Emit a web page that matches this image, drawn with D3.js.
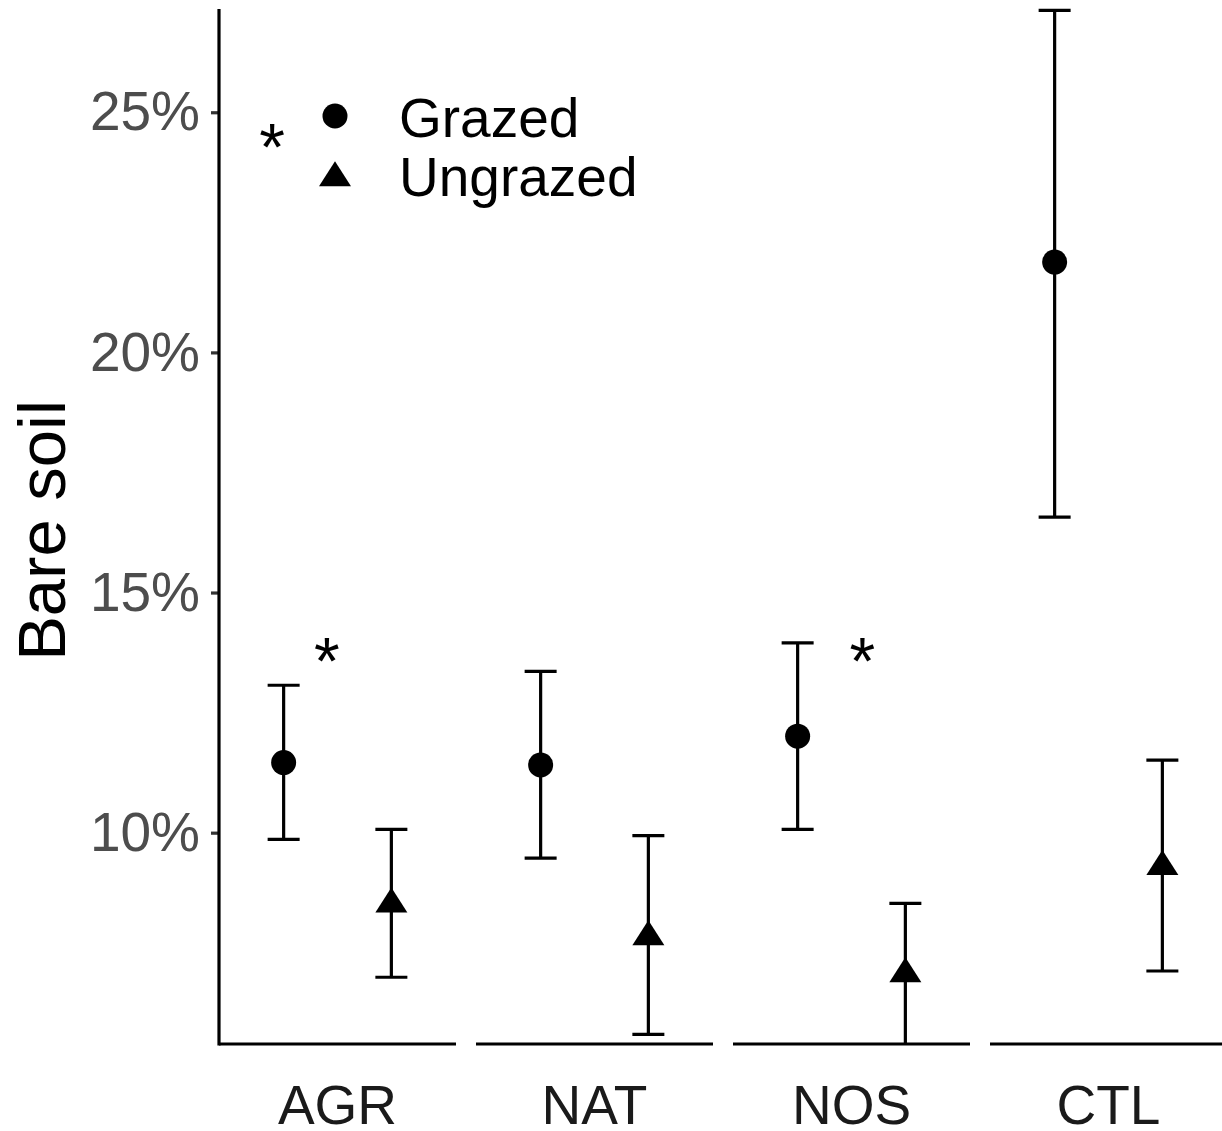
<!DOCTYPE html>
<html>
<head>
<meta charset="utf-8">
<script src="https://cdn.jsdelivr.net/npm/d3@7"></script>
<style>
  html, body { margin: 0; padding: 0; background: #ffffff; }
  svg { display: block; font-family: "Liberation Sans", Arial, Helvetica, sans-serif; }
</style>
</head>
<body>
<svg id="chart" width="1222" height="1131"></svg>
<script>
// Sites (facets) and grazing treatments
const sites = ["AGR", "NAT", "NOS", "CTL"];
const treatments = ["Grazed", "Ungrazed"];

// Bare soil cover (%) — mean with lower / upper interval bounds
const grazedMean  = [11.46, 11.41, 12.01, 21.88];
const grazedLow   = [9.86, 9.47, 10.07, 16.57];
const grazedHigh  = [13.07, 13.36, 13.95, 27.12];
const ungrazedMean = [8.51, 7.83, 7.06, 9.29];
const ungrazedLow  = [6.99, 5.80, 5.40, 7.12];
const ungrazedHigh = [10.07, 9.94, 8.53, 11.51];

// Y axis ticks (%)
const yTicks = [10, 15, 20, 25];

// Significance marks: site, x position on the treatment axis (1 = Grazed, 2 = Ungrazed), y value (%)
const sigSites = ["AGR", "NOS"];
const sigPos   = [1.4, 1.6];
const sigY     = [13.5, 13.5];

const rows = [];
sites.forEach((s, i) => {
  rows.push({ site: s, treat: "Grazed", mean: grazedMean[i], lo: grazedLow[i], hi: grazedHigh[i] });
  rows.push({ site: s, treat: "Ungrazed", mean: ungrazedMean[i], lo: ungrazedLow[i], hi: ungrazedHigh[i] });
});

const svg = d3.select("#chart");
const plotLeft = 219, plotTop = 9, plotBottom = 1044;
const panelStep = 257, panelW = 237;

const xPanel = d3.scaleBand()
  .domain(sites)
  .range([plotLeft, plotLeft + panelStep * sites.length - (panelStep - panelW)])
  .paddingInner((panelStep - panelW) / panelStep)
  .paddingOuter(0);

const xTreat = d3.scalePoint()
  .domain(treatments)
  .range([0, xPanel.bandwidth()])
  .padding(0.6);

const y = d3.scaleLinear().domain([5.6, 27.15]).range([plotBottom, plotTop]);

const lineW = 3.2;
const capHalf = 16;
const ptR = 12.5;
const starSize = 66;

// Triangle with its centroid at the origin
function triPath(w, h) {
  return `M0,${-2 * h / 3} L${w / 2},${h / 3} L${-w / 2},${h / 3} Z`;
}

// Y axis
const yAxis = d3.axisLeft(y)
  .tickValues(yTicks)
  .tickFormat(d => d + "%")
  .tickSize(8)
  .tickPadding(11);

const gy = svg.append("g")
  .attr("transform", `translate(${plotLeft},0)`)
  .call(yAxis);
gy.select(".domain").remove();
gy.append("line")
  .attr("x1", 0).attr("x2", 0)
  .attr("y1", plotTop).attr("y2", plotBottom + lineW / 2)
  .attr("stroke", "#000").attr("stroke-width", lineW);
gy.selectAll(".tick line").attr("stroke", "#333").attr("stroke-width", lineW);
gy.selectAll(".tick text")
  .attr("fill", "#4d4d4d")
  .attr("font-size", 55)
  .attr("font-family", "'Liberation Sans', Arial, sans-serif");

// Y axis title
svg.append("text")
  .attr("transform", `translate(65,${(plotTop + plotBottom) / 2 + 4}) rotate(-90)`)
  .attr("text-anchor", "middle")
  .attr("font-size", 67)
  .attr("fill", "#000")
  .text("Bare soil");

// Panels
sites.forEach(site => {
  const px = xPanel(site);
  const g = svg.append("g").attr("transform", `translate(${px},0)`);

  const clipId = "clip-" + site;
  g.append("clipPath").attr("id", clipId)
    .append("rect")
    .attr("x", -5).attr("y", 0)
    .attr("width", xPanel.bandwidth() + 10)
    .attr("height", plotBottom);

  const data = rows.filter(r => r.site === site);
  const marks = g.append("g").attr("clip-path", `url(#${clipId})`);

  const eb = marks.selectAll("g.eb").data(data).join("g").attr("class", "eb");
  eb.append("line")
    .attr("x1", d => xTreat(d.treat)).attr("x2", d => xTreat(d.treat))
    .attr("y1", d => y(d.lo)).attr("y2", d => y(d.hi))
    .attr("stroke", "#000").attr("stroke-width", lineW);
  eb.append("line")
    .attr("x1", d => xTreat(d.treat) - capHalf).attr("x2", d => xTreat(d.treat) + capHalf)
    .attr("y1", d => y(d.hi)).attr("y2", d => y(d.hi))
    .attr("stroke", "#000").attr("stroke-width", lineW);
  eb.append("line")
    .attr("x1", d => xTreat(d.treat) - capHalf).attr("x2", d => xTreat(d.treat) + capHalf)
    .attr("y1", d => y(d.lo)).attr("y2", d => y(d.lo))
    .attr("stroke", "#000").attr("stroke-width", lineW);

  marks.selectAll("circle.pt").data(data.filter(d => d.treat === "Grazed")).join("circle")
    .attr("class", "pt")
    .attr("cx", d => xTreat(d.treat)).attr("cy", d => y(d.mean))
    .attr("r", ptR).attr("fill", "#000");
  marks.selectAll("path.pt").data(data.filter(d => d.treat === "Ungrazed")).join("path")
    .attr("class", "pt")
    .attr("transform", d => `translate(${xTreat(d.treat)},${y(d.mean)})`)
    .attr("d", triPath(32, 25)).attr("fill", "#000");

  // bottom axis line of the panel
  g.append("line")
    .attr("x1", 0).attr("x2", xPanel.bandwidth())
    .attr("y1", plotBottom).attr("y2", plotBottom)
    .attr("stroke", "#000").attr("stroke-width", lineW);

  // site label
  g.append("text")
    .attr("x", xPanel.bandwidth() / 2)
    .attr("y", 1124)
    .attr("text-anchor", "middle")
    .attr("font-size", 55)
    .attr("fill", "#1a1a1a")
    .text(site);
});

// Significance asterisks
sigSites.forEach((s, i) => {
  const step = xTreat.step();
  const x = xPanel(s) + xTreat(treatments[0]) + (sigPos[i] - 1) * step;
  svg.append("text")
    .attr("x", x).attr("y", y(sigY[i]))
    .attr("dy", "0.29em")
    .attr("text-anchor", "middle")
    .attr("font-size", starSize)
    .attr("fill", "#000")
    .text("*");
});

// Legend
const legend = svg.append("g").attr("transform", "translate(335,0)");
legend.append("text")
  .attr("x", -63).attr("y", 170)
  .attr("text-anchor", "middle")
  .attr("font-size", starSize)
  .attr("fill", "#000")
  .text("*");
legend.append("circle").attr("cx", 0).attr("cy", 116).attr("r", ptR).attr("fill", "#000");
legend.append("path").attr("transform", "translate(0,178)").attr("d", triPath(32, 25)).attr("fill", "#000");
legend.append("text").attr("x", 64).attr("y", 137).attr("font-size", 55).attr("fill", "#000").text(treatments[0]);
legend.append("text").attr("x", 64).attr("y", 196).attr("font-size", 55).attr("fill", "#000").text(treatments[1]);
</script>
</body>
</html>
